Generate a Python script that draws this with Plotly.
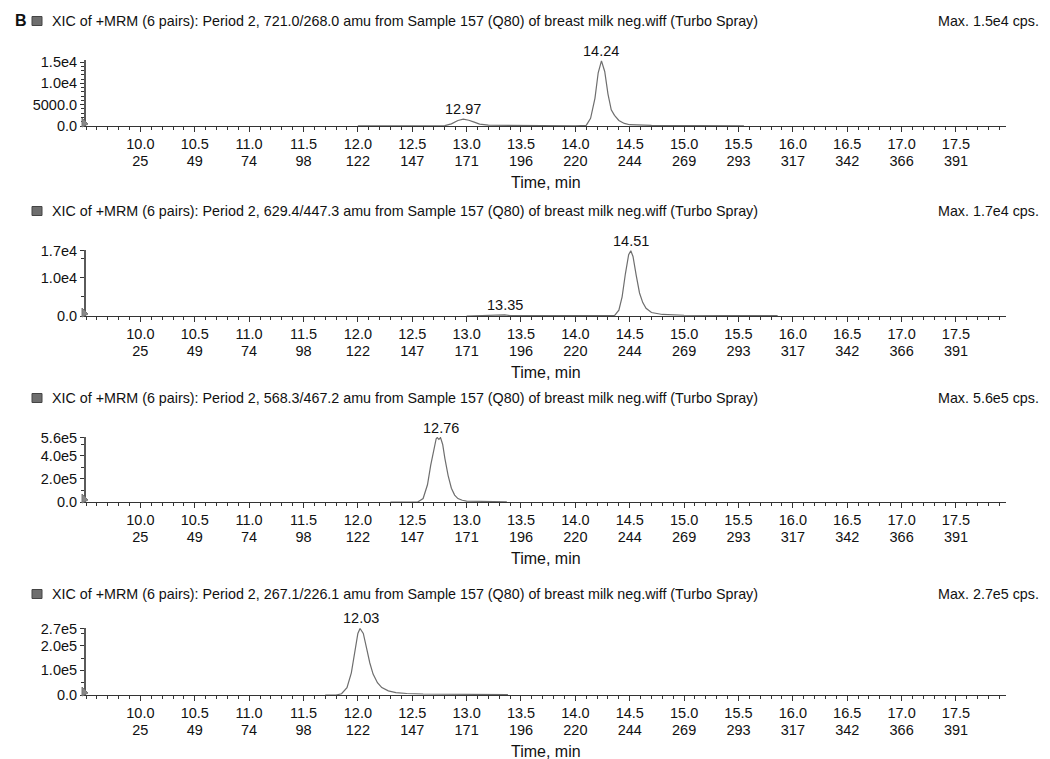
import plotly.graph_objects as go

W, H = 1050, 759
OFF = 8  # browser default body margin

# ---------------- data ----------------
major_times = [10.0, 10.5, 11.0, 11.5, 12.0, 12.5, 13.0, 13.5, 14.0, 14.5, 15.0, 15.5, 16.0, 16.5, 17.0, 17.5]
scan_numbers = [25, 49, 74, 98, 122, 147, 171, 196, 220, 244, 269, 293, 317, 342, 366, 391]

headers = [
    "XIC of +MRM (6 pairs): Period 2, 721.0/268.0 amu from Sample 157 (Q80) of breast milk neg.wiff (Turbo Spray)",
    "XIC of +MRM (6 pairs): Period 2, 629.4/447.3 amu from Sample 157 (Q80) of breast milk neg.wiff (Turbo Spray)",
    "XIC of +MRM (6 pairs): Period 2, 568.3/467.2 amu from Sample 157 (Q80) of breast milk neg.wiff (Turbo Spray)",
    "XIC of +MRM (6 pairs): Period 2, 267.1/226.1 amu from Sample 157 (Q80) of breast milk neg.wiff (Turbo Spray)",
]
max_labels = ["Max. 1.5e4 cps.", "Max. 1.7e4 cps.", "Max. 5.6e5 cps.", "Max. 2.7e5 cps."]

# panel 1 : 721.0/268.0
time_1 = [12.0, 12.5, 12.80, 12.86, 12.92, 12.97, 13.02, 13.07, 13.12, 13.2, 13.5, 14.0, 14.10, 14.14,
          14.18, 14.21, 14.24, 14.27, 14.30, 14.33, 14.36, 14.40, 14.45, 14.50, 14.7, 15.0, 15.3, 15.55]
intensity_1 = [40, 60, 80, 500, 1300, 1600, 1350, 900, 450, 200, 100, 60, 150, 1800,
               6500, 12500, 15300, 12800, 7500, 3800, 2500, 1300, 600, 300, 150, 100, 150, 50]

# panel 2 : 629.4/447.3
time_2 = [13.0, 13.3, 13.35, 13.40, 14.0, 14.36, 14.40, 14.43, 14.46, 14.49, 14.51, 14.53, 14.56,
          14.59, 14.62, 14.65, 14.70, 14.80, 15.0, 15.5, 15.68, 15.86]
intensity_2 = [0, 100, 300, 100, 50, 100, 1500, 5000, 11000, 16000, 17000, 15500, 10500,
               6000, 3500, 2000, 900, 400, 200, 150, 250, 100]

# panel 3 : 568.3/467.2
time_3 = [12.3, 12.55, 12.60, 12.64, 12.67, 12.70, 12.72, 12.73, 12.745, 12.76, 12.78, 12.80, 12.83,
          12.86, 12.89, 12.92, 12.96, 13.0, 13.1, 13.2, 13.37]
intensity_3 = [0, 0, 30000, 150000, 320000, 480000, 550000, 560000, 545000, 560000, 500000, 380000, 230000,
               120000, 60000, 30000, 15000, 8000, 5000, 3000, 1500]

# panel 4 : 267.1/226.1
time_4 = [11.7, 11.80, 11.85, 11.90, 11.94, 11.97, 12.00, 12.02, 12.05, 12.08, 12.11, 12.14, 12.18,
          12.22, 12.28, 12.35, 12.45, 12.6, 13.0, 13.38]
intensity_4 = [0, 0, 5000, 30000, 90000, 170000, 250000, 270000, 250000, 190000, 130000, 85000, 50000,
               30000, 17000, 10000, 6000, 4000, 2500, 1500]

peak_times = [[12.97, 14.24], [13.35, 14.51], [12.76], [12.03]]
peak_heights = [[1600, 15300], [300, 17000], [560000], [270000]]

y_tickvals = [[0, 5000, 10000, 15000], [0, 10000, 17000], [0, 200000, 400000, 560000], [0, 100000, 200000, 270000]]
y_ticktext = [["0.0", "5000.0", "1.0e4", "1.5e4"], ["0.0", "1.0e4", "1.7e4"],
              ["0.0", "2.0e5", "4.0e5", "5.6e5"], ["0.0", "1.0e5", "2.0e5", "2.7e5"]]
y_max = [15500, 17200, 565000, 272000]
y_minor = [1000, 5000, 100000, 50000]

times = [time_1, time_2, time_3, time_4]
intens = [intensity_1, intensity_2, intensity_3, intensity_4]

# ---------------- layout geometry (screen pixels) ----------------
x_left_px, x_right_px = 86, 1006
panel_px = [(60, 126), (250, 316), (437, 502), (628, 695)]
header_px = [21, 211, 398, 594]

FONT = "Arial, Liberation Sans, Helvetica, sans-serif"
line_col = "#6e6e6e"
axis_col = "#333333"
txt_col = "#111111"


def px(p):
    return (p - OFF) / W


def py(p):
    return 1 - (p - OFF) / H


fig = go.Figure()
layout = dict(
    width=W, height=H,
    margin=dict(l=0, r=0, t=0, b=0, autoexpand=False),
    paper_bgcolor="white", plot_bgcolor="white",
    showlegend=False,
    font=dict(family=FONT, size=14, color=txt_col),
)
annotations = []
shapes = []
x_range = [9.5, 17.96]

for i in range(4):
    k = 3 * i
    xa, xb, xc = (str(k + 1) if k else ""), str(k + 2), str(k + 3)
    yn = "" if i == 0 else str(i + 1)
    top, bot = panel_px[i]
    dom = [px(x_left_px), px(x_right_px)]
    fig.add_trace(go.Scatter(x=times[i], y=intens[i], mode="lines",
                             line=dict(color=line_col, width=1.2),
                             xaxis="x" + xa, yaxis="y" + yn, hoverinfo="skip"))
    # empty traces so the label axes are drawn
    for xl in (xb, xc):
        fig.add_trace(go.Scatter(x=[None], y=[None], mode="lines", xaxis="x" + xl, yaxis="y" + yn,
                                 hoverinfo="skip", showlegend=False))
    # main axis: line + ticks
    layout["xaxis" + xa] = dict(
        domain=dom, anchor="y" + yn, range=x_range,
        tickmode="array", tickvals=major_times, showticklabels=False,
        ticks="outside", ticklen=5, tickwidth=1, tickcolor=axis_col,
        showline=True, linecolor=axis_col, linewidth=1,
        showgrid=False, zeroline=False,
        minor=dict(tickmode="linear", tick0=9.5, dtick=0.1, ticks="outside",
                   ticklen=3, tickcolor=axis_col, showgrid=False),
    )
    # time labels
    layout["xaxis" + xb] = dict(
        domain=dom, anchor="y" + yn, overlaying="x" + xa, range=x_range,
        tickmode="array", tickvals=major_times, ticktext=[f"{t:.1f}" for t in major_times],
        ticks="", showline=False, showgrid=False, zeroline=False,
        ticklabelstandoff=7,
        tickfont=dict(family=FONT, size=14.5, color=txt_col),
    )
    # scan-number labels
    layout["xaxis" + xc] = dict(
        domain=dom, anchor="y" + yn, overlaying="x" + xa, range=x_range,
        tickmode="array", tickvals=major_times, ticktext=[str(s) for s in scan_numbers],
        ticks="", showline=False, showgrid=False, zeroline=False,
        ticklabelstandoff=24,
        tickfont=dict(family=FONT, size=14.5, color=txt_col),
    )
    layout["yaxis" + yn] = dict(
        domain=[py(bot), py(top)], anchor="x" + xa,
        range=[0, y_max[i]], tickmode="array", tickvals=y_tickvals[i], ticktext=y_ticktext[i],
        ticks="outside", ticklen=4, tickwidth=1, tickcolor=axis_col,
        showline=True, linecolor="#5a5a5a", linewidth=2,
        showgrid=False, zeroline=False,
        tickfont=dict(family=FONT, size=14.5, color=txt_col),
        minor=dict(tickmode="linear", tick0=0, dtick=y_minor[i], ticks="outside",
                   ticklen=3, tickcolor=axis_col, showgrid=False),
    )
    # header texts
    annotations.append(dict(x=px(50), y=py(header_px[i]), xref="paper", yref="paper",
                            text=headers[i], showarrow=False, xanchor="left", yanchor="middle",
                            font=dict(family=FONT, size=14.3, color=txt_col)))
    annotations.append(dict(x=px(1041), y=py(header_px[i]), xref="paper", yref="paper",
                            text=max_labels[i], showarrow=False, xanchor="right", yanchor="middle",
                            font=dict(family=FONT, size=14.3, color=txt_col)))
    shapes.append(dict(type="rect", xref="paper", yref="paper",
                       x0=px(32), x1=px(42), y0=py(header_px[i] + 4.5), y1=py(header_px[i] - 4.5),
                       fillcolor="#6e6e6e", line=dict(color="#444444", width=1)))
    # axis title
    annotations.append(dict(x=px((x_left_px + x_right_px) / 2), y=py(bot + 56), xref="paper", yref="paper",
                            text="Time, min", showarrow=False, xanchor="center", yanchor="middle",
                            font=dict(family=FONT, size=16, color=txt_col)))
    # peak labels
    for t, h in zip(peak_times[i], peak_heights[i]):
        annotations.append(dict(x=t, y=h, xref="x" + xa, yref="y" + yn, text=f"{t:.2f}",
                                showarrow=False, xanchor="center", yanchor="bottom", yshift=0,
                                font=dict(family=FONT, size=14.5, color=txt_col)))
    # small gray flag at the origin
    shapes.append(dict(type="path", xref="paper", yref="paper",
                       path=f"M {px(82)},{py(bot - 8)} L {px(88)},{py(bot - 2)} L {px(82)},{py(bot + 1)} Z",
                       fillcolor="#888888", line=dict(color="#777777", width=1)))

annotations.append(dict(x=px(13), y=py(header_px[0]), xref="paper", yref="paper", text="<b>B</b>",
                        showarrow=False, xanchor="left", yanchor="middle",
                        font=dict(family=FONT, size=16, color=txt_col)))

layout["annotations"] = annotations
layout["shapes"] = shapes
fig.update_layout(**layout)
fig.write_html("out.html")
